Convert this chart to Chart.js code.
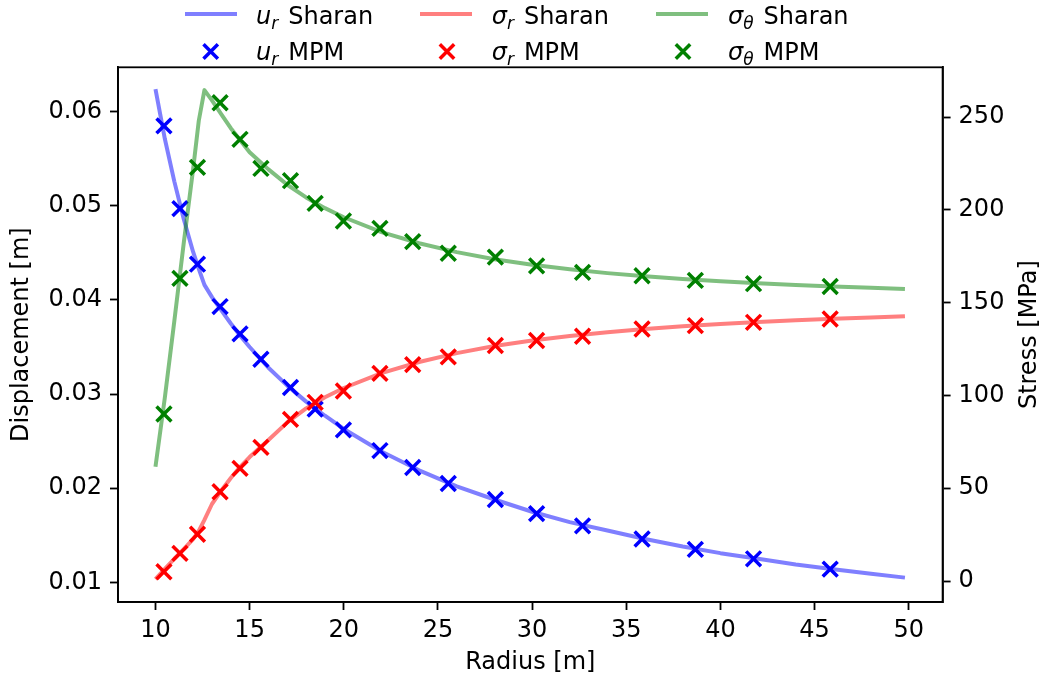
<!DOCTYPE html>
<html>
<head>
<meta charset="utf-8">
<script src="https://cdn.jsdelivr.net/npm/chart.js@4.4.1/dist/chart.umd.min.js"></script>
<style>
  html, body { margin: 0; padding: 0; background: #fff; }
  #wrap { position: relative; width: 1042px; height: 682px; }
</style>
</head>
<body>
<div id="wrap"><canvas id="chart"></canvas></div>
<script>
// analytic (Sharan) curves
const radiusSharan = [10, 10.5, 11, 11.5, 12, 12.3, 12.6, 13, 13.5, 14, 14.5, 15, 16, 17, 18, 19, 20,
  22, 24, 26, 28, 30, 32, 34, 36, 38, 40, 42, 44, 46, 48, 49.8];
const dispSharan = [0.0624, 0.0571, 0.0526, 0.0486, 0.0451, 0.0433, 0.0416, 0.0403, 0.0389, 0.0375, 0.0362,
  0.0350, 0.0328, 0.0309, 0.0292, 0.0277, 0.0263, 0.0239, 0.0219, 0.0202, 0.0188, 0.0175, 0.0164, 0.0155,
  0.0146, 0.0138, 0.0131, 0.0125, 0.0119, 0.0114, 0.0109, 0.0105];
const sigmaRSharan = [1.0, 6.5, 12.0, 17.2, 22.6, 27.0, 33.0, 41.5, 48.8, 55.5, 61.5, 66.8, 76.0, 85.5, 93.0,
  99.0, 104.0, 112.0, 118.0, 122.8, 126.6, 129.6, 132.0, 134.0, 135.8, 137.3, 138.5, 139.6, 140.5, 141.3,
  142.0, 142.6];
const sigmaThetaSharan = [61.6, 99, 140, 182, 222, 248, 264.5, 259, 251.5, 244, 237.5, 231, 221.8, 213.5,
  206.7, 200.9, 196, 188, 182, 177.2, 173.4, 170.4, 168, 165.9, 164.2, 162.7, 161.5, 160.4, 159.5, 158.7,
  158, 157.4];

// MPM results
const radiusMPM = [10.45, 11.3, 12.23, 13.43, 14.49, 15.6, 17.17, 18.48, 19.98, 21.92, 23.66, 25.55, 28.05,
  30.24, 32.68, 35.84, 38.67, 41.76, 45.83];
const dispMPM = [0.0585, 0.0497, 0.0438, 0.0393, 0.0364, 0.0337, 0.0307, 0.0284, 0.0262, 0.0240, 0.0222,
  0.0205, 0.0188, 0.0173, 0.0160, 0.0146, 0.0135, 0.0125, 0.0114];
const sigmaRMPM = [5.0, 14.9, 25.2, 48.1, 60.7, 72.0, 87.1, 96.3, 102.4, 111.9, 116.6, 120.8, 126.9, 129.6,
  131.9, 135.8, 137.6, 139.4, 141.2];
const sigmaThetaMPM = [90.0, 163.1, 222.9, 257.7, 238.0, 222.3, 215.7, 203.5, 194.0, 190.0, 182.9, 176.6,
  174.5, 169.8, 166.3, 164.5, 162.0, 160.2, 158.7];

const xTicks = [10, 15, 20, 25, 30, 35, 40, 45, 50];
const dispTicks = [0.01, 0.02, 0.03, 0.04, 0.05, 0.06];
const stressTicks = [0, 50, 100, 150, 200, 250];

const FONT = 'DejaVu Sans';
const FS = 24;
Chart.defaults.font.family = FONT;
Chart.defaults.font.size = FS;
Chart.defaults.color = '#000';

const pts = (xs, ys) => xs.map((x, i) => ({ x, y: ys[i] }));

const lineSet = (label, ys, color, axis, order) => ({
  label, data: pts(radiusSharan, ys), yAxisID: axis, showLine: true,
  borderColor: color, borderWidth: 4, pointRadius: 0, borderJoinStyle: 'round', order,
});
const markSet = (label, ys, color, axis, order) => ({
  label, data: pts(radiusMPM, ys), yAxisID: axis, showLine: false,
  pointStyle: 'crossRot', pointRadius: 10.5, borderWidth: 3.5,
  borderColor: color, backgroundColor: color, order,
});

const tickGrid = { display: true, drawOnChartArea: false, tickLength: 8, tickWidth: 1.8, tickColor: '#000' };
const axisBorder = { display: true, color: '#000', width: 1.8 };

// matplotlib style legend, mathtext-like labels, right axis label, closed frame
const decorations = {
  id: 'decorations',
  afterDraw(chart) {
    const ctx = chart.ctx;
    const a = chart.chartArea;
    ctx.save();
    ctx.strokeStyle = '#000';
    ctx.lineWidth = 1.8;
    ctx.strokeRect(a.left, a.top, a.right - a.left, a.bottom - a.top);

    ctx.save();
    ctx.translate(1030, (a.top + a.bottom) / 2);
    ctx.rotate(-Math.PI / 2);
    ctx.font = `${FS}px "${FONT}"`;
    ctx.textAlign = 'center';
    ctx.textBaseline = 'middle';
    ctx.fillText('Stress [MPa]', 0, 0);
    ctx.restore();

    const cols = [
      { sym: 'u', sub: 'r', line: 'rgba(0,0,255,0.5)', mark: '#0000ff', lx: 185, mx: 210.7, tx: 256 },
      { sym: 'σ', sub: 'r', line: 'rgba(255,0,0,0.5)', mark: '#ff0000', lx: 420, mx: 447, tx: 491.7 },
      { sym: 'σ', sub: 'θ', line: 'rgba(0,128,0,0.5)', mark: '#008000', lx: 656, mx: 683, tx: 728 },
    ];
    const label = (c, rest, base) => {
      ctx.fillStyle = '#000';
      ctx.textAlign = 'left';
      ctx.textBaseline = 'alphabetic';
      ctx.font = `italic ${FS}px "${FONT}"`;
      ctx.fillText(c.sym, c.tx, base);
      const x1 = c.tx + ctx.measureText(c.sym).width;
      ctx.font = `italic 17px "${FONT}"`;
      ctx.fillText(c.sub, x1, base + 5);
      const x2 = x1 + ctx.measureText(c.sub).width + 10;
      ctx.font = `${FS}px "${FONT}"`;
      ctx.fillText(rest, x2, base);
    };
    cols.forEach(c => {
      ctx.strokeStyle = c.line;
      ctx.lineWidth = 4;
      ctx.beginPath();
      ctx.moveTo(c.lx, 14);
      ctx.lineTo(c.lx + 52, 14);
      ctx.stroke();
      label(c, 'Sharan', 23.5);

      ctx.strokeStyle = c.mark;
      ctx.lineWidth = 3.5;
      const h = 7.2, cy = 51.5;
      ctx.beginPath();
      ctx.moveTo(c.mx - h, cy - h); ctx.lineTo(c.mx + h, cy + h);
      ctx.moveTo(c.mx - h, cy + h); ctx.lineTo(c.mx + h, cy - h);
      ctx.stroke();
      label(c, 'MPM', 59.5);
    });
    ctx.restore();
  }
};

new Chart(document.getElementById('chart'), {
  type: 'scatter',
  data: {
    datasets: [
      lineSet('u_r Sharan', dispSharan, 'rgba(0,0,255,0.5)', 'yDisp', 6),
      markSet('u_r MPM', dispMPM, '#0000ff', 'yDisp', 5),
      lineSet('σ_r Sharan', sigmaRSharan, 'rgba(255,0,0,0.5)', 'yStress', 4),
      markSet('σ_r MPM', sigmaRMPM, '#ff0000', 'yStress', 3),
      lineSet('σ_θ Sharan', sigmaThetaSharan, 'rgba(0,128,0,0.5)', 'yStress', 2),
      markSet('σ_θ MPM', sigmaThetaMPM, '#008000', 'yStress', 1),
    ],
  },
  options: {
    responsive: true,
    maintainAspectRatio: false,
    animation: false,
    events: [],
    layout: { padding: { top: 67.3, left: 0, right: 0, bottom: 0 } },
    plugins: { legend: { display: false }, tooltip: { enabled: false } },
    scales: {
      x: {
        type: 'linear', min: 8.01, max: 51.8,
        afterBuildTicks: s => { s.ticks = xTicks.map(v => ({ value: v })); },
        afterFit: s => { s.height = 80; },
        ticks: { padding: 6, callback: v => String(v), maxRotation: 0 },
        grid: tickGrid, border: axisBorder,
        title: { display: true, text: 'Radius [m]', padding: { top: 0, bottom: 5 } },
      },
      yDisp: {
        type: 'linear', position: 'left', min: 0.00791, max: 0.06472,
        afterBuildTicks: s => { s.ticks = dispTicks.map(v => ({ value: v })); },
        afterFit: s => { s.width = 118; },
        ticks: { padding: 8, callback: v => v.toFixed(2) },
        grid: tickGrid, border: axisBorder,
        title: { display: true, text: 'Displacement [m]', padding: { top: 7, bottom: 0 } },
      },
      yStress: {
        type: 'linear', position: 'right', min: -11.3, max: 276.8,
        afterBuildTicks: s => { s.ticks = stressTicks.map(v => ({ value: v })); },
        afterFit: s => { s.width = 99.4; },
        ticks: { padding: 8, callback: v => String(v) },
        grid: tickGrid, border: axisBorder,
      },
    },
  },
  plugins: [decorations],
});
</script>
</body>
</html>
